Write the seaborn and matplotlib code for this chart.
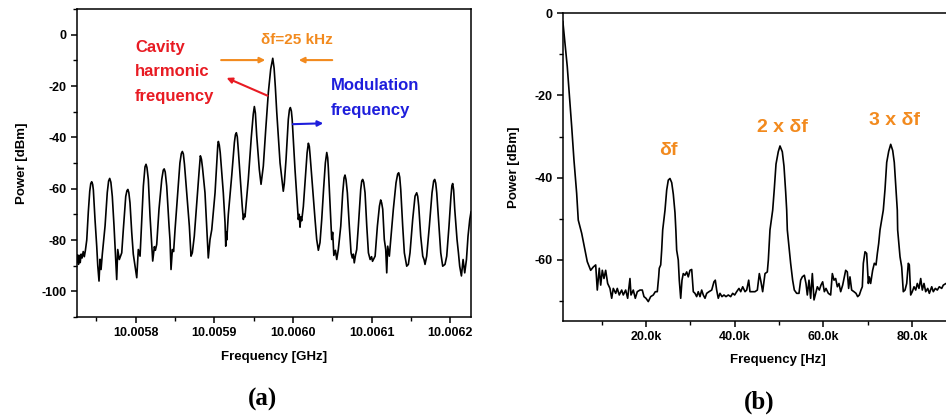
import matplotlib
matplotlib.use('Agg')
import matplotlib.pyplot as plt
import seaborn as sns
import pandas as pd
from matplotlib.ticker import MultipleLocator, FormatStrFormatter, FuncFormatter

A_FREQ_GHZ = [
    10.0057253, 10.0057262, 10.0057272, 10.0057283, 10.0057294, 10.0057305, 10.0057318, 10.0057332, 10.0057346, 10.0057360, 10.0057377, 10.0057397, 10.0057415, 10.0057428, 10.0057440,
    10.0057452, 10.0057461, 10.0057482, 10.0057504, 10.0057517, 10.0057533, 10.0057546, 10.0057559, 10.0057575, 10.0057610, 10.0057638, 10.0057655, 10.0057669,
    10.0057684, 10.0057702, 10.0057724, 10.0057737, 10.0057746, 10.0057758, 10.0057771, 10.0057791, 10.0057822, 10.0057842, 10.0057873, 10.0057888, 10.0057900,
    10.0057912, 10.0057927, 10.0057949, 10.0057969, 10.0057991, 10.0058013, 10.0058033, 10.0058055, 10.0058067, 10.0058097, 10.0058118, 10.0058131,
    10.0058143, 10.0058160, 10.0058182, 10.0058204, 10.0058216, 10.0058237, 10.0058250, 10.0058267, 10.0058296, 10.0058331, 10.0058350, 10.0058362,
    10.0058375, 10.0058394, 10.0058424, 10.0058436, 10.0058449, 10.0058466, 10.0058482, 10.0058500, 10.0058534, 10.0058562, 10.0058580, 10.0058593,
    10.0058606, 10.0058620, 10.0058649, 10.0058682, 10.0058703, 10.0058720, 10.0058745, 10.0058776, 10.0058805, 10.0058822,
    10.0058836, 10.0058850, 10.0058881, 10.0058903, 10.0058916, 10.0058923, 10.0058945, 10.0058967, 10.0059009, 10.0059035, 10.0059044, 10.0059051,
    10.0059063, 10.0059075, 10.0059114, 10.0059136, 10.0059145, 10.0059152, 10.0059158, 10.0059178, 10.0059221, 10.0059255, 10.0059268, 10.0059280,
    10.0059292, 10.0059305, 10.0059330, 10.0059355, 10.0059369, 10.0059380, 10.0059390, 10.0059410, 10.0059432, 10.0059470, 10.0059495, 10.0059509,
    10.0059522, 10.0059539, 10.0059572, 10.0059594, 10.0059623, 10.0059654, 10.0059687, 10.0059717, 10.0059743,
    10.0059760, 10.0059776, 10.0059794, 10.0059836, 10.0059870, 10.0059877, 10.0059890, 10.0059912, 10.0059941, 10.0059955, 10.0059967,
    10.0059980, 10.0059990, 10.0060026, 10.0060056, 10.0060068, 10.0060080, 10.0060090, 10.0060100, 10.0060111, 10.0060132, 10.0060160, 10.0060180, 10.0060196,
    10.0060208, 10.0060218, 10.0060239, 10.0060281, 10.0060302, 10.0060323, 10.0060344, 10.0060366, 10.0060390, 10.0060412, 10.0060430,
    10.0060442, 10.0060450, 10.0060472, 10.0060493, 10.0060505, 10.0060520, 10.0060540, 10.0060557, 10.0060577, 10.0060608, 10.0060633, 10.0060650, 10.0060662,
    10.0060675, 10.0060692, 10.0060717, 10.0060739, 10.0060755, 10.0060768, 10.0060780, 10.0060795, 10.0060811, 10.0060832, 10.0060862, 10.0060875, 10.0060887,
    10.0060900, 10.0060917, 10.0060939, 10.0060960, 10.0060982, 10.0061000, 10.0061012, 10.0061024, 10.0061045, 10.0061074, 10.0061100, 10.0061116,
    10.0061128, 10.0061142, 10.0061162, 10.0061180, 10.0061193, 10.0061205, 10.0061226, 10.0061244, 10.0061277, 10.0061311, 10.0061332, 10.0061345,
    10.0061358, 10.0061371, 10.0061396, 10.0061417, 10.0061447, 10.0061468, 10.0061489, 10.0061523, 10.0061553, 10.0061574,
    10.0061587, 10.0061600, 10.0061625, 10.0061651, 10.0061667, 10.0061680, 10.0061701, 10.0061735, 10.0061769, 10.0061790, 10.0061803,
    10.0061816, 10.0061829, 10.0061858, 10.0061880, 10.0061905, 10.0061934, 10.0061956, 10.0061985, 10.0062010, 10.0062022, 10.0062032,
    10.0062044, 10.0062058, 10.0062087, 10.0062105, 10.0062121, 10.0062143, 10.0062164, 10.0062185, 10.0062207, 10.0062227, 10.0062249, 10.0062265,
]
A_POWER_DBM = [
    -88.5, -85.8, -89.5, -86, -88.8, -85.5, -87, -84.5, -86.5, -84, -80, -69, -61, -58, -57.3,
    -58.3, -60.5, -72, -82.5, -90, -96, -87.5, -91.5, -85.5, -74.5, -61.5, -57, -56,
    -57.5, -63, -74.6, -82.6, -87.6, -95.4, -83.7, -87.6, -85, -76, -63, -60.8, -60.3,
    -61.5, -65.5, -77, -85.5, -90, -94.7, -83.7, -86.3, -78.5, -59, -51.5, -50.5,
    -51.8, -56.4, -70.7, -82.4, -88.2, -82.6, -84, -81.7, -68, -56.4, -52.8, -52.3,
    -53.5, -59, -74.6, -80, -91.5, -83.7, -84.5, -76, -61.6, -50, -46.3, -45.5,
    -46.5, -50.5, -61.6, -74.6, -86.3, -85, -78.5, -65.5, -53.8, -47.2,
    -48.5, -52, -61.6, -74.6, -82.4, -87, -79.8, -76, -61.6, -48, -43, -41.6,
    -43, -46, -61.6, -73.3, -82.4, -77, -80, -70, -55, -42, -39, -38.2,
    -39.8, -45, -56, -67, -72, -70, -71, -64, -56.4, -40, -31, -28,
    -30.5, -39.4, -52.5, -58.3, -51.2, -36.8, -22.5, -13.4, -9.2,
    -13, -20.4, -30.3, -50, -59, -61, -58, -48.6, -33, -29.3, -28.4,
    -29.8, -33, -52.5, -66.8, -72, -70, -75, -71, -72.5, -67, -55, -46, -42.3,
    -43.5, -47, -55.4, -72, -79.8, -84, -81, -72, -60, -50, -45.9,
    -48, -52, -66, -79.8, -77, -86, -84, -87.6, -83.7, -74.6, -61.6, -55.8, -54.7,
    -56.5, -61.6, -74.6, -85, -87, -85.5, -88.9, -86, -83.7, -74.6, -60.3, -57, -56.4,
    -57.5, -61.6, -74.6, -85, -87.6, -86.5, -88.3, -87.6, -86.3, -74.6, -66.8, -64.4,
    -65.5, -68, -79.8, -83.7, -92.8, -82.4, -86.3, -79.8, -68, -57.7, -54.3, -53.8,
    -55.5, -60.3, -74.6, -85, -90.2, -89.5, -85, -72, -62.9, -61.6,
    -63, -66.8, -78.5, -86.3, -87.6, -89.5, -86.3, -74.6, -61.6, -57, -56.4,
    -57.8, -61.6, -74.6, -85, -90.2, -89.5, -86.3, -74.6, -62.9, -58.8, -58,
    -60.5, -68, -79.8, -85, -90.2, -94, -87.6, -92.8, -87.6, -78.5, -72, -69,
]

B_FREQ_HZ = [
    1250, 1960, 2250, 2700, 3250, 3760, 4370, 4730, 5500, 6250, 6760, 7530, 8120, 8660, 9020, 9470, 9790,
    10150, 10530, 10910, 11360, 11880, 12270, 12630, 13170, 13530, 13980, 14520, 14880, 15420, 15870,
    16390, 16620, 17140, 17590, 18040, 18650, 19170, 19550, 20000, 20520, 21060, 21650, 22100, 22550,
    22860, 23000, 23320, 23540, 23770, 24290, 24670, 25030, 25410, 25800, 26160, 26540, 26750, 26920,
    27280, 27510, 27830, 28120, 28410, 28800, 29180, 29540, 29920, 30310, 30670, 31050, 31430, 31790,
    32180, 32560, 32920, 33310, 33690, 34210, 34820, 35330, 35630, 35940, 36300, 36690, 37140, 37590,
    38040, 38560, 39100, 39550, 40000, 40450, 40970, 41360, 41810, 42330, 42710, 43160, 43450, 43830,
    44580, 45110, 45560, 45930, 46310, 46840, 47360, 47590, 47960, 48570, 48930, 49320, 49830, 50220,
    50740, 51120, 51500, 51730, 51870, 52320, 52620, 53070, 53450, 53980, 54500, 54880, 55250, 55710,
    56080, 56380, 56760, 57130, 57510, 57890, 58260, 58640, 59090, 59460, 59840, 60220, 60590, 61120,
    61640, 62020, 62400, 62770, 63150, 63520, 63900, 64350, 64730, 65030, 65400, 65700, 66000, 66380,
    66900, 67360, 67730, 68110, 68480, 68780, 69010, 69390, 69760, 70140, 70360, 70660, 71110, 71490,
    71870, 72170, 72470, 72770, 73510, 73900, 74280, 74730, 75180, 75630, 75990, 76380, 76670, 76750,
    77280, 77660, 78020, 78410, 78790, 79150, 79380, 79690, 80050, 80440, 80820, 81180, 81560, 81950,
    82310, 82690, 83070, 83530, 83890, 84430, 84790, 85240, 85690, 86140, 86680, 87040, 87650, 88400,
]
B_POWER_DBM = [
    -2, -9.8, -13, -19.5, -27.6, -35.7, -43.8, -50.3, -53.5, -57.6, -60.4, -62.5, -61.7, -61.2, -67.3, -62, -66.1,
    -62.5, -64.5, -62.5, -65.7, -66.9, -69.3, -66.9, -68.1, -66.9, -68.5, -67.3, -68.5, -67.3, -69.3,
    -64.5, -68.5, -67.3, -69.3, -67.7, -67.3, -67.3, -68.9, -69.3, -70.1, -68.9, -68.5, -67.7, -67.7,
    -64.1, -62, -61.2, -57.6, -52.7, -47.9, -43, -40.6, -40.2, -41.2, -44, -48.5, -53, -57.6,
    -60, -64.9, -69.3, -64.9, -63.3, -63.7, -62.9, -64.1, -62.5, -62.3, -67.7, -68.1, -68.9, -67.7,
    -68.9, -67.3, -68.5, -69.3, -68.1, -67.7, -67.3, -65.3, -64.9, -67.3, -69.3, -68.1, -68.9, -68.5,
    -68.9, -68.5, -68.9, -68.1, -68.5, -67.7, -66.9, -67.7, -66.5, -67.7, -67.3, -64.9, -67.7, -67.7,
    -67.7, -67.3, -63.3, -65.3, -67.7, -63.3, -62.9, -60, -52.7, -47.9, -42.8, -36.7, -33.7, -32.3,
    -33.7, -37.2, -43.5, -47.9, -52.7, -57.6, -60.8, -64.9, -67.3, -68.1, -68.1, -64.9, -64.1, -63.7,
    -65.7, -68.5, -64.9, -69.3, -63.3, -69.7, -68.1, -66.5, -67.3, -66.1, -65.3, -67.7, -66.9, -68.1,
    -68.5, -63.3, -64.9, -64.5, -66.5, -65.7, -67.7, -66.1, -64.1, -62.5, -62.9, -66.9, -64.1, -67.3,
    -67.7, -68.1, -68.9, -68.5, -67.3, -66.5, -60.8, -58, -58.4, -65.7, -64.1, -65.7, -62.5, -60.8,
    -61.2, -58.4, -56, -52.7, -47.9, -42.8, -36.3, -33.6, -31.9, -33.4, -36.3, -43, -47.9, -52.7,
    -59.2, -61.7, -67.7, -67.3, -65.7, -60.8, -61.2, -68.5, -67.7, -66.5, -67.3, -65.7, -66.9, -64.5,
    -67.3, -65.7, -67.7, -66.9, -68.1, -66.5, -67.7, -66.9, -67.3, -66.5, -66.9, -66.1, -65.7, -66,
]

ORANGE = '#F28A1E'
RED = '#E81B23'
BLUE = '#1E1EDC'

sns.set_theme(style='ticks', rc={
    'axes.edgecolor': 'black', 'axes.linewidth': 1.1,
    'axes.labelcolor': 'black', 'text.color': 'black',
    'xtick.color': 'black', 'ytick.color': 'black',
    'xtick.major.width': 1.1, 'ytick.major.width': 1.1,
    'xtick.minor.width': 1.0, 'ytick.minor.width': 1.0,
    'xtick.major.size': 4, 'ytick.major.size': 4,
    'xtick.minor.size': 3, 'ytick.minor.size': 3,
})
plt.rcParams['font.family'] = ['Liberation Sans', 'DejaVu Sans']
plt.rcParams['font.weight'] = 'bold'
plt.rcParams['axes.labelweight'] = 'bold'
plt.rcParams['axes.unicode_minus'] = False

df_a = pd.DataFrame({'freq': A_FREQ_GHZ, 'power': A_POWER_DBM})
df_b = pd.DataFrame({'freq': B_FREQ_HZ, 'power': B_POWER_DBM})

fig = plt.figure(figsize=(9.46, 4.17), dpi=100)
ax_a = fig.add_axes([0.0814, 0.2398, 0.4165, 0.7386])
ax_b = fig.add_axes([0.5948, 0.2309, 0.4552, 0.7379])

# ── panel (a) ──
sns.lineplot(data=df_a, x='freq', y='power', ax=ax_a, color='black',
             linewidth=1.2, estimator=None, sort=False)
ax_a.set_xlim(10.0057253, 10.0062265)
ax_a.set_ylim(-110, 10)
ax_a.xaxis.set_major_locator(MultipleLocator(0.0001))
ax_a.xaxis.set_minor_locator(MultipleLocator(0.00005))
ax_a.xaxis.set_major_formatter(FormatStrFormatter('%.4f'))
ax_a.yaxis.set_major_locator(MultipleLocator(20))
ax_a.yaxis.set_minor_locator(MultipleLocator(10))
ax_a.set_xlabel('Frequency [GHz]', fontsize=9.5, labelpad=8)
ax_a.set_ylabel('Power [dBm]', fontsize=9.5, labelpad=10)
ax_a.tick_params(labelsize=9)

ax_a.annotate('', xy=(10.0059683, -9.9), xytext=(10.0059051, -9.9),
              arrowprops=dict(arrowstyle='-|>', color=ORANGE, lw=1.5, mutation_scale=8))
ax_a.annotate('', xy=(10.0060039, -9.9), xytext=(10.0060535, -9.9),
              arrowprops=dict(arrowstyle='-|>', color=ORANGE, lw=1.5, mutation_scale=8))
ax_a.text(10.0060052, -2.1, 'δf=25 kHz', color=ORANGE, fontsize=11,
          ha='center', va='center', fontweight='bold')
ax_a.text(10.0057991, -2.0, 'Cavity\nharmonic\nfrequency', color=RED, fontsize=12,
          ha='left', va='top', fontweight='bold', linespacing=1.8)
ax_a.annotate('', xy=(10.0059123, -16.4), xytext=(10.0059708, -24.2),
              arrowprops=dict(arrowstyle='-|>', color=RED, lw=1.5, mutation_scale=8))
ax_a.text(10.0060484, -17.0, 'Modulation\nfrequency', color=BLUE, fontsize=12,
          ha='left', va='top', fontweight='bold', linespacing=1.8)
ax_a.annotate('', xy=(10.0060421, -34.5), xytext=(10.0059963, -34.9),
              arrowprops=dict(arrowstyle='-|>', color=BLUE, lw=1.5, mutation_scale=8))

# ── panel (b) ──
sns.lineplot(data=df_b, x='freq', y='power', ax=ax_b, color='black',
             linewidth=1.2, estimator=None, sort=False)
ax_b.set_xlim(1218, 98316)
ax_b.set_ylim(-74.75, 0)
ax_b.xaxis.set_major_locator(MultipleLocator(20000))
ax_b.xaxis.set_minor_locator(MultipleLocator(10000))
ax_b.xaxis.set_major_formatter(FuncFormatter(lambda v, p: f'{v / 1000:.1f}k'))
ax_b.yaxis.set_major_locator(MultipleLocator(20))
ax_b.yaxis.set_minor_locator(MultipleLocator(10))
ax_b.set_xlabel('Frequency [Hz]', fontsize=9.5, labelpad=8)
ax_b.set_ylabel('Power [dBm]', fontsize=9.5, labelpad=10)
ax_b.tick_params(labelsize=9)

for txt, fx, fy in [('δf', 24961, -33.5), ('2 x δf', 50668, -27.7), ('3 x δf', 76150, -26.2)]:
    ax_b.text(fx, fy, txt, color=ORANGE, fontsize=14, ha='center', va='center',
              fontweight='bold')

fig.text(0.278, 0.043, '(a)', family=['Liberation Serif', 'DejaVu Serif'],
         fontsize=18, fontweight='bold', ha='center', va='center', color='black')
fig.text(0.802, 0.036, '(b)', family=['Liberation Serif', 'DejaVu Serif'],
         fontsize=18, fontweight='bold', ha='center', va='center', color='black')

fig.savefig('out.png', dpi=100)
